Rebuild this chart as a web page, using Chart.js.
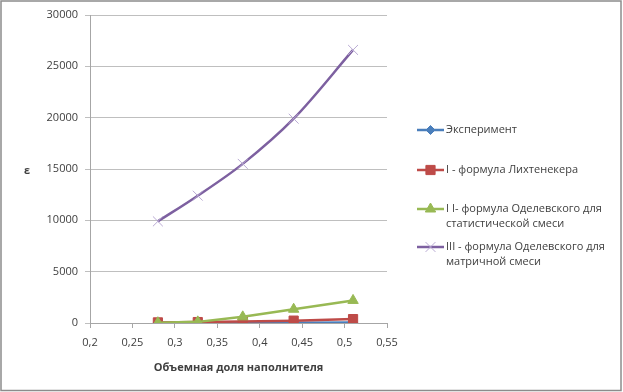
<!DOCTYPE html>
<html>
<head>
<meta charset="utf-8">
<script src="https://cdn.jsdelivr.net/npm/chart.js@4"></script>
<style>
    html, body { margin: 0; padding: 0; background: #fff; }
    #wrap { width: 623px; height: 392px; position: relative; }
</style>
</head>
<body>
<div id="wrap"><canvas id="epsChart" width="623" height="392"></canvas></div>
<script>
// volume fraction of filler (x) and permittivity values per series
const fractions = [0.28, 0.327, 0.38, 0.44, 0.51];
const experiment = [8, 12, 20, 30, 50];
const lichtenecker = [60, 90, 150, 230, 380];
const odelevskyStat = [30, 110, 600, 1340, 2200];
const odelevskyMatrix = [9900, 12400, 15500, 19900, 26600];

const seriesLabels = [
    ['Эксперимент'],
    ['I - формула Лихтенекера'],
    ['I I- формула Оделевского для', 'статистической смеси'],
    ['III - формула Оделевского для', 'матричной смеси']
];
const xTitle = 'Объемная доля наполнителя';
const yTitle = 'ε';

const FONT = '"Open Sans", "Liberation Sans", sans-serif';
const TEXT = '#404040';

function points(values) {
    return fractions.map((x, i) => ({ x: x, y: values[i] }));
}

// Excel-like legend, frame and axis titles drawn on the canvas
const excelDecor = {
    id: 'excelDecor',
    afterDraw(chart) {
        const ctx = chart.ctx;
        const area = chart.chartArea;
        ctx.save();

        // outer chart frame
        ctx.strokeStyle = '#8c8c8c';
        ctx.lineWidth = 1.5;
        ctx.strokeRect(1, 1, 620, 389.5);

        // axis titles
        ctx.fillStyle = TEXT;
        ctx.font = 'bold 11px ' + FONT;
        ctx.textAlign = 'center';
        ctx.textBaseline = 'middle';
        ctx.fillText(xTitle, (area.left + area.right) / 2, 368);
        ctx.fillText(yTitle, 27, 171);

        // legend
        const rows = [130, 170, 209, 247];
        ctx.font = '11px ' + FONT;
        ctx.textAlign = 'left';
        chart.data.datasets.forEach((ds, i) => {
            const y = rows[i];
            ctx.strokeStyle = ds.borderColor;
            ctx.lineWidth = ds.borderWidth;
            ctx.beginPath();
            ctx.moveTo(417, y);
            ctx.lineTo(444, y);
            ctx.stroke();
            ctx.fillStyle = ds.pointBackgroundColor;
            ctx.strokeStyle = ds.pointBorderColor;
            ctx.lineWidth = ds.pointBorderWidth;
            Chart.helpers.drawPoint(ctx, {
                pointStyle: ds.pointStyle,
                radius: ds.pointRadius,
                borderWidth: ds.pointBorderWidth,
                rotation: 0
            }, 430.5, y);
            ctx.fillStyle = TEXT;
            seriesLabels[i].forEach((line, j) => {
                ctx.fillText(line, 446, y + j * 15);
            });
        });
        ctx.restore();
    }
};

const epsCtx = document.getElementById('epsChart').getContext('2d');
const epsChart = new Chart(epsCtx, {
    type: 'scatter',
    data: {
        datasets: [{
            label: seriesLabels[0].join(' '),
            data: points(experiment),
            showLine: true,
            borderColor: '#4a7ebb',
            borderWidth: 2.5,
            pointStyle: 'rectRot',
            pointRadius: 4.5,
            pointBackgroundColor: '#4a7ebb',
            pointBorderColor: '#4a7ebb',
            pointBorderWidth: 1,
            order: 3
        }, {
            label: seriesLabels[1].join(' '),
            data: points(lichtenecker),
            showLine: true,
            borderColor: '#be4b48',
            borderWidth: 2.5,
            pointStyle: 'rect',
            pointRadius: 6.5,
            pointBackgroundColor: '#be4b48',
            pointBorderColor: '#be4b48',
            pointBorderWidth: 1,
            order: 2
        }, {
            label: seriesLabels[2].join(' '),
            data: points(odelevskyStat),
            showLine: true,
            borderColor: '#98b954',
            borderWidth: 2.5,
            pointStyle: 'triangle',
            pointRadius: 6,
            pointBackgroundColor: '#98b954',
            pointBorderColor: '#98b954',
            pointBorderWidth: 1,
            order: 1
        }, {
            label: seriesLabels[3].join(' '),
            data: points(odelevskyMatrix),
            showLine: true,
            borderColor: '#7d60a0',
            borderWidth: 2.5,
            cubicInterpolationMode: 'monotone',
            pointStyle: 'crossRot',
            pointRadius: 7,
            pointBackgroundColor: '#b9aad3',
            pointBorderColor: '#b9aad3',
            pointBorderWidth: 1,
            order: 0
        }]
    },
    options: {
        responsive: false,
        animation: false,
        layout: { padding: { left: 0, top: 15, right: 236, bottom: 0 } },
        plugins: {
            legend: { display: false },
            tooltip: { enabled: false }
        },
        scales: {
            x: {
                type: 'linear',
                min: 0.2,
                max: 0.55,
                afterFit(scale) { scale.height = 69; },
                border: { display: true, color: '#a6a6a6', width: 1 },
                grid: { drawOnChartArea: false, drawTicks: true, tickLength: 5, color: '#a6a6a6' },
                ticks: {
                    stepSize: 0.05,
                    padding: 8,
                    color: TEXT,
                    font: { family: FONT, size: 11 },
                    callback: v => String(Math.round(v * 100) / 100).replace('.', ',')
                }
            },
            y: {
                min: 0,
                max: 30000,
                afterFit(scale) { scale.width = 90; },
                border: { display: true, color: '#a6a6a6', width: 1 },
                grid: { color: '#bfbfbf', tickLength: 5 },
                ticks: {
                    stepSize: 5000,
                    padding: 7,
                    color: TEXT,
                    font: { family: FONT, size: 11 },
                    callback: v => String(v)
                }
            }
        }
    },
    plugins: [excelDecor]
});
</script>
</body>
</html>
